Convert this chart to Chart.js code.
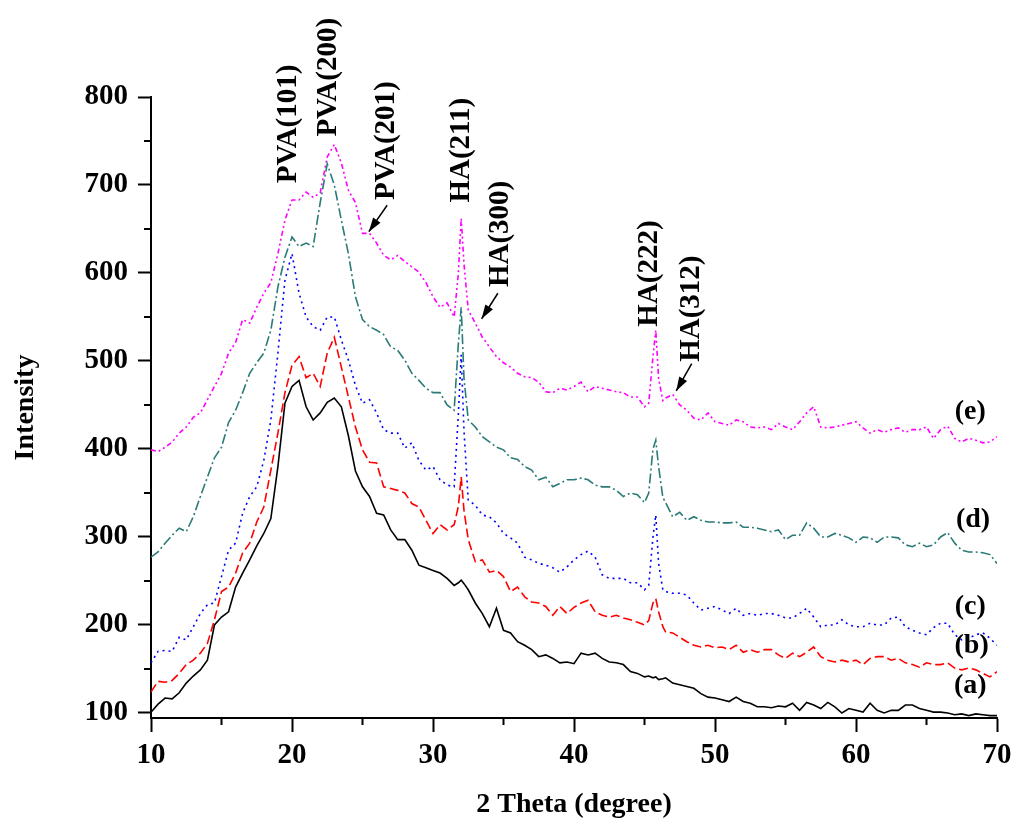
<!DOCTYPE html>
<html>
<head>
<meta charset="utf-8">
<script src="https://cdn.jsdelivr.net/npm/chart.js@4.4.1/dist/chart.umd.min.js"></script>
<style>
  html, body { margin: 0; padding: 0; background: #fff; }
  #wrap { width: 1024px; height: 835px; position: relative; }
</style>
</head>
<body>
<div id="wrap"><canvas id="xrd"></canvas></div>
<script>
// 2 theta positions (degree), shared by all patterns
const theta = [10,10.5,11,11.5,12,12.5,13,13.5,14,14.5,15,15.5,16,16.5,17,17.5,18,18.5,19,19.5,
  20,20.5,21,21.5,22,22.5,23,23.5,24,24.5,25,25.5,26,26.5,27,27.5,28,28.5,29,29.5,
  30,30.5,31,31.5,31.8,32,32.2,32.5,33,33.5,34,34.5,35,35.5,36,36.5,37,37.5,38,38.5,39,39.5,
  40,40.5,41,41.5,42,42.5,43,43.5,44,44.5,45,45.3,45.6,45.8,46,46.3,46.5,47,47.5,48,48.5,49,49.5,
  50,50.5,51,51.5,52,52.5,53,53.5,54,54.5,55,55.5,56,56.5,57,57.5,58,58.5,59,59.5,
  60,60.5,61,61.5,62,62.5,63,63.5,64,64.5,65,65.5,66,66.5,67,67.5,68,68.5,69,69.5,70];

// intensities
const patternA = [101,110,117,116,123,134,142,149,160,200,209,215,243,259,274,290,304,321,380,452,
  471,478,448,433,441,453,458,448,415,375,357,346,327,325,308,297,297,285,268,265,
  262,259,253,245,248,251,247,240,225,213,198,219,194,191,181,177,172,164,166,162,157,158,
  156,168,166,168,162,158,157,155,147,145,141,142,140,141,138,139,140,134,132,130,128,122,118,
  117,115,113,118,113,111,107,107,106,108,107,111,103,112,109,105,112,107,100,105,
  103,101,111,103,100,103,103,109,109,105,103,101,101,100,98,99,97,99,98,97,97];

const patternB = [124,136,135,137,145,155,160,168,179,206,238,243,259,282,293,317,334,376,418,464,
  495,505,481,486,471,509,527,493,459,425,399,385,384,357,355,353,350,338,334,319,
  304,314,308,314,335,368,330,297,272,274,260,262,255,238,243,232,226,225,221,211,221,213,
  220,225,228,215,211,209,211,208,206,203,200,205,225,230,215,198,192,191,186,181,177,175,177,
  174,175,172,177,169,172,169,172,172,166,162,168,164,169,175,164,160,158,160,158,
  160,155,162,164,164,160,162,157,155,152,157,155,155,157,151,149,151,149,145,141,147];

const patternC = [157,170,171,170,186,183,198,213,223,225,255,285,293,327,346,357,387,433,509,592,
  622,577,550,539,535,550,550,524,501,472,452,456,441,422,418,418,401,407,387,376,
  380,365,359,357,440,507,420,342,336,325,323,316,304,299,293,277,274,270,268,265,260,266,
  274,280,284,277,257,253,253,253,248,248,240,245,300,325,270,240,238,236,236,234,225,217,219,
  221,217,213,219,211,213,211,213,213,211,208,208,213,219,209,198,200,200,206,200,
  198,198,202,200,200,208,209,198,194,191,189,197,202,202,189,183,185,189,191,185,177];

const patternD = [277,283,293,302,310,306,323,346,368,390,402,430,444,464,486,498,509,535,584,618,
  641,630,634,630,680,724,700,660,622,573,547,539,535,530,516,512,501,486,478,469,
  464,464,450,444,520,561,480,433,425,414,408,402,399,390,388,380,376,365,368,357,361,365,
  365,367,365,359,357,357,353,346,350,348,339,350,400,410,380,345,339,323,328,319,323,319,317,
  317,316,316,317,311,311,310,308,306,308,297,302,302,316,310,300,300,304,302,299,
  294,300,299,294,300,300,299,291,289,293,289,291,300,305,293,285,283,283,282,280,270];

const patternE = [399,397,402,408,418,425,436,441,456,471,486,509,521,547,543,561,577,589,622,660,
  683,683,692,686,691,732,746,725,694,680,645,645,634,620,615,620,613,607,601,589,
  573,561,566,550,600,662,610,558,543,527,516,505,498,493,486,482,481,476,465,464,469,467,
  471,476,465,471,469,467,465,464,459,459,448,452,505,535,480,455,458,462,450,444,435,433,441,
  431,429,427,433,431,425,424,425,422,429,425,422,431,441,448,425,424,425,427,429,
  431,424,418,422,419,422,424,419,422,422,425,412,422,426,412,408,412,410,407,408,414];

const patternNames = ['(a)', '(b)', '(c)', '(d)', '(e)'];
const yTicks = [100, 200, 300, 400, 500, 600, 700, 800];
const xTicks = [10, 20, 30, 40, 50, 60, 70];

const serif = "'Liberation Serif', 'Times New Roman', serif";

function toPoints(values) {
    return theta.map((t, i) => ({ x: t, y: values[i] }));
}

// peak labels: text, x (degree), y where the vertical text starts, optional arrow
const peakLabels = [
    { text: 'PVA(101)', x: 19.65, y: 702 },
    { text: 'PVA(200)', x: 22.55, y: 755 },
    { text: 'PVA(201)', x: 26.6, y: 683, arrow: [26.75, 677, 25.45, 647] },
    { text: 'HA(211)', x: 31.95, y: 680 },
    { text: 'HA(300)', x: 34.75, y: 584, arrow: [34.6, 577, 33.45, 548] },
    { text: 'HA(222)', x: 45.3, y: 539 },
    { text: 'HA(312)', x: 48.25, y: 499, arrow: [48.35, 497, 47.25, 466] },
];
const nameSpots = [[68.1, 131], [68.2, 176], [68.1, 221], [68.3, 320], [68.1, 442]];

const xrdDecor = {
    id: 'xrdDecor',
    afterDraw(chart) {
        const ctx = chart.ctx;
        const xs = chart.scales.x, ys = chart.scales.y;
        const area = chart.chartArea;
        ctx.save();
        ctx.strokeStyle = '#000';
        ctx.fillStyle = '#000';
        ctx.lineWidth = 2;
        // minor ticks
        for (let v = 150; v < 800; v += 100) {
            const py = ys.getPixelForValue(v);
            ctx.beginPath(); ctx.moveTo(area.left - 7, py); ctx.lineTo(area.left, py); ctx.stroke();
        }
        for (let v = 15; v < 70; v += 10) {
            const px = xs.getPixelForValue(v);
            ctx.beginPath(); ctx.moveTo(px, area.bottom); ctx.lineTo(px, area.bottom + 7); ctx.stroke();
        }
        // peak labels
        ctx.font = 'bold 29px ' + serif;
        peakLabels.forEach(p => {
            const px = xs.getPixelForValue(p.x), py = ys.getPixelForValue(p.y);
            ctx.save();
            ctx.translate(px, py);
            ctx.rotate(-Math.PI / 2);
            ctx.textAlign = 'left';
            ctx.textBaseline = 'middle';
            ctx.fillText(p.text, 0, 1);
            ctx.restore();
            if (p.arrow) {
                const x1 = xs.getPixelForValue(p.arrow[0]), y1 = ys.getPixelForValue(p.arrow[1]);
                const x2 = xs.getPixelForValue(p.arrow[2]), y2 = ys.getPixelForValue(p.arrow[3]);
                const ang = Math.atan2(y2 - y1, x2 - x1);
                ctx.lineWidth = 1.5;
                ctx.beginPath(); ctx.moveTo(x1, y1); ctx.lineTo(x2, y2); ctx.stroke();
                ctx.beginPath();
                ctx.moveTo(x2, y2);
                ctx.lineTo(x2 - 14 * Math.cos(ang) + 4.5 * Math.sin(ang), y2 - 14 * Math.sin(ang) - 4.5 * Math.cos(ang));
                ctx.lineTo(x2 - 14 * Math.cos(ang) - 4.5 * Math.sin(ang), y2 - 14 * Math.sin(ang) + 4.5 * Math.cos(ang));
                ctx.closePath();
                ctx.fill();
            }
        });
        // pattern names at the right end
        ctx.font = 'bold 28px ' + serif;
        ctx.textAlign = 'center';
        ctx.textBaseline = 'middle';
        patternNames.forEach((n, i) => {
            ctx.fillText(n, xs.getPixelForValue(nameSpots[i][0]), ys.getPixelForValue(nameSpots[i][1]));
        });
        ctx.restore();
    }
};

new Chart(document.getElementById('xrd'), {
    type: 'line',
    data: {
        datasets: [
            { label: patternNames[0], data: toPoints(patternA), borderColor: '#000000', borderDash: [] },
            { label: patternNames[1], data: toPoints(patternB), borderColor: '#ff0000', borderDash: [9, 4] },
            { label: patternNames[2], data: toPoints(patternC), borderColor: '#0000ff', borderDash: [2, 4] },
            { label: patternNames[3], data: toPoints(patternD), borderColor: '#2a7b77', borderDash: [10, 3, 2, 3] },
            { label: patternNames[4], data: toPoints(patternE), borderColor: '#ff00ff', borderDash: [5, 3, 2, 3, 2, 3] },
        ]
    },
    options: {
        responsive: true,
        maintainAspectRatio: false,
        animation: false,
        events: [],
        layout: { padding: { top: 97, right: 27, bottom: 0, left: 0 } },
        elements: {
            point: { radius: 0 },
            line: { borderWidth: 1.6, tension: 0 }
        },
        plugins: {
            legend: { display: false },
            tooltip: { enabled: false }
        },
        scales: {
            x: {
                type: 'linear',
                min: 10,
                max: 70,
                afterBuildTicks: s => { s.ticks = xTicks.map(v => ({ value: v })); },
                afterFit: s => { s.height = 117; },
                grid: { drawOnChartArea: false, drawTicks: true, tickLength: 14, tickWidth: 2, tickColor: '#000' },
                border: { display: true, color: '#000', width: 2 },
                ticks: { color: '#000', font: { family: serif, size: 29, weight: 'bold' }, padding: 6, maxRotation: 0 },
                title: { display: true, text: '2 Theta (degree)', color: '#000',
                         font: { family: serif, size: 28, weight: 'bold' }, padding: { top: 0, bottom: 13 } }
            },
            y: {
                type: 'linear',
                min: 94.3,
                max: 800,
                afterBuildTicks: s => { s.ticks = yTicks.map(v => ({ value: v })); },
                afterFit: s => { s.width = 151; },
                grid: { drawOnChartArea: false, drawTicks: true, tickLength: 13, tickWidth: 2, tickColor: '#000' },
                border: { display: true, color: '#000', width: 2 },
                ticks: { color: '#000', font: { family: serif, size: 29, weight: 'bold' }, padding: 10 },
                title: { display: true, text: 'Intensity', color: '#000',
                         font: { family: serif, size: 28, weight: 'bold' }, padding: { top: 9, bottom: 0 } }
            }
        }
    },
    plugins: [xrdDecor]
});
</script>
</body>
</html>
